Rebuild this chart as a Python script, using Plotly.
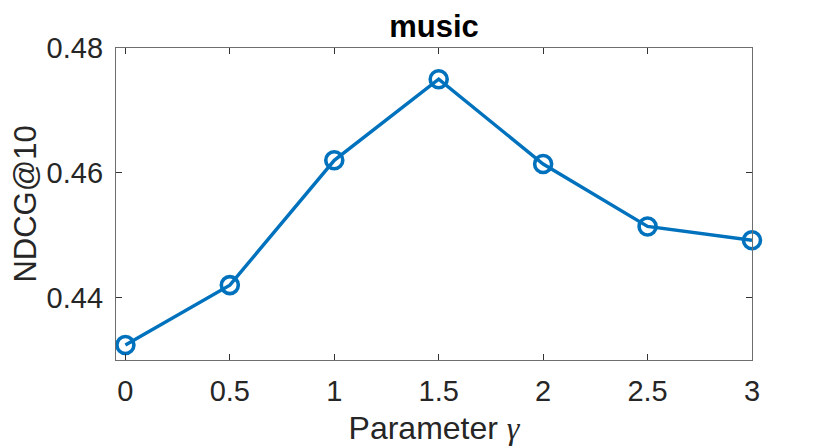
import plotly.graph_objects as go

gamma = [0, 0.5, 1, 1.5, 2, 2.5, 3]
ndcg = [0.4324, 0.4420, 0.4620, 0.4750, 0.4614, 0.4514, 0.4492]
x_ticks = [0, 0.5, 1, 1.5, 2, 2.5, 3]
x_labels = ['0', '0.5', '1', '1.5', '2', '2.5', '3']
y_ticks = [0.44, 0.46, 0.48]
y_labels = ['0.44', '0.46', '0.48']

blue = '#0072BD'
axis_color = '#6e6e6e'
text_color = '#262626'
font = 'Liberation Sans, Arial, sans-serif'

# page body has an 8px margin, so the figure is a bit smaller than the window
W, H = 822, 440

fig = go.Figure()
fig.add_trace(go.Scatter(
    x=gamma, y=ndcg,
    mode='lines+markers',
    line=dict(color=blue, width=3.4),
    marker=dict(symbol='circle-open', size=17, color=blue,
                line=dict(color=blue, width=3.6)),
    cliponaxis=False,
    showlegend=False
))

axis_common = dict(
    showline=True, linecolor=axis_color, linewidth=1.3,
    mirror='allticks', ticks='inside', ticklen=6, tickwidth=1,
    tickcolor='#333333', showgrid=False, zeroline=False,
    tickfont=dict(family=font, size=29, color=text_color),
)

fig.update_xaxes(
    range=[-0.045, 3], tickvals=x_ticks, ticktext=x_labels,
    ticklabelstandoff=5,
    title=dict(text='Parameter <span style="font-family:Liberation Serif, serif"><i>γ</i></span>',
               font=dict(family=font, size=32, color=text_color), standoff=10),
    **axis_common
)
fig.update_yaxes(
    range=[0.43, 0.48], tickvals=y_ticks, ticktext=y_labels,
    ticklabelstandoff=6,
    title=dict(text='NDCG@10', font=dict(family=font, size=31, color=text_color),
               standoff=8),
    **axis_common
)

fig.update_layout(
    width=W, height=H,
    margin=dict(l=108, r=78, t=40, b=88, autoexpand=False),
    paper_bgcolor='white', plot_bgcolor='white',
    title=dict(text='<b>music</b>', x=0.5, xref='paper', xanchor='center',
               yref='container', y=1 - 29 / H, yanchor='bottom',
               font=dict(family=font, size=31, color='black')),
)

fig.write_html('out.html')
